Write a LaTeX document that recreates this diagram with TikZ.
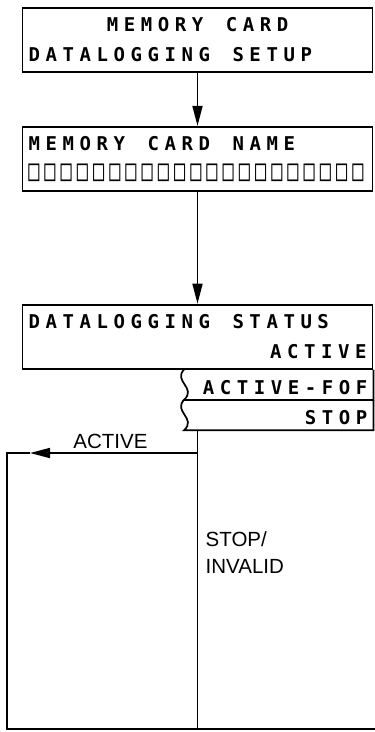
\documentclass[tikz,border=0pt]{standalone}
\usepackage{fontspec}
\setmainfont{Liberation Sans}
\newfontfamily\lcdfont{DejaVu Sans Mono}
\newcommand\lcd{\lcdfont\bfseries\fontsize{19}{30}\selectfont}
% one fixed-width cell per character, spaces kept
\ExplSyntaxOn
\NewDocumentCommand \lcdtext { O{17pt} m }
  { \str_map_inline:nn {#2} { \makebox[#1]{##1} } }
\ExplSyntaxOff
\usetikzlibrary{positioning,arrows.meta}

\begin{document}
\begin{tikzpicture}[x=1pt,y=-1pt]

% Definitions
\tikzstyle{screen} = [rectangle, draw=black, line width=1.8pt, minimum width=350pt, minimum height=64pt, inner xsep=3.25pt, text width=343.5pt, align=left, font=\lcd]
\tikzstyle{row} = [rectangle, minimum width=189pt, minimum height=30pt, inner xsep=3pt, inner ysep=0pt, text height=19pt, text depth=0pt, text width=183pt, align=right, font=\lcd]
\tikzstyle{note} = [font=\fontsize{20.5}{27}\selectfont, align=left]
\tikzstyle{line} = [line width=1.7pt]
\tikzstyle{arrow} = [line width=1.7pt,->,>={Triangle[length=20pt,width=10pt]}]

\useasboundingbox (0,0) rectangle (375,732);

\node (setup) [screen] at (197.5,40) {\makebox[\linewidth]{\lcdtext{MEMORY CARD}}\\\lcdtext{DATALOGGING SETUP}};
\node (name) [screen, below=53pt of setup] {\lcdtext{MEMORY CARD NAME}\\{\mdseries\fontsize{18.5}{30}\selectfont\scalebox{1}[1.6]{\foreach \i in {1,...,21}{\makebox[16.2pt]{□}}}}};
\node (status) [screen, below=112pt of name] {\lcdtext{DATALOGGING STATUS}\\\makebox[\linewidth][r]{\lcdtext{ACTIVE}}};
\node (fof) [row, below left=0pt and 0pt of status.south east] {\lcdtext{ACTIVE-FOF}};
\node (stop) [row, below=0pt of fof] {\lcdtext{STOP}};

\coordinate (branch) at (197.5,453);
\coordinate (tip) at (30,453);
\coordinate (cornerTL) at (7,453);
\coordinate (cornerBL) at (7,729);
\coordinate (cornerBR) at (375,729);
\coordinate (foot) at (197.5,729);

\draw [line] (fof.north west) .. controls +(-11,12) and +(13,-12) .. (fof.south west) -- (fof.south east) -- (fof.north east);
\draw [line] (stop.north west) .. controls +(-11,12) and +(13,-12) .. (stop.south west) -- (stop.south east) -- (stop.north east);

\draw [arrow] (setup) -- (name);
\draw [arrow] (name) -- (status);
\draw [line] (stop.south -| status.south) -- node[note, right, pos=0.408, xshift=4pt] {STOP/\\INVALID} (foot);
\draw [arrow] (branch) -- node[note, above, pos=0.52] {ACTIVE} (tip);
\draw [line] (tip) -- (cornerTL) -- (cornerBL) -- (cornerBR);

\end{tikzpicture}
\end{document}
